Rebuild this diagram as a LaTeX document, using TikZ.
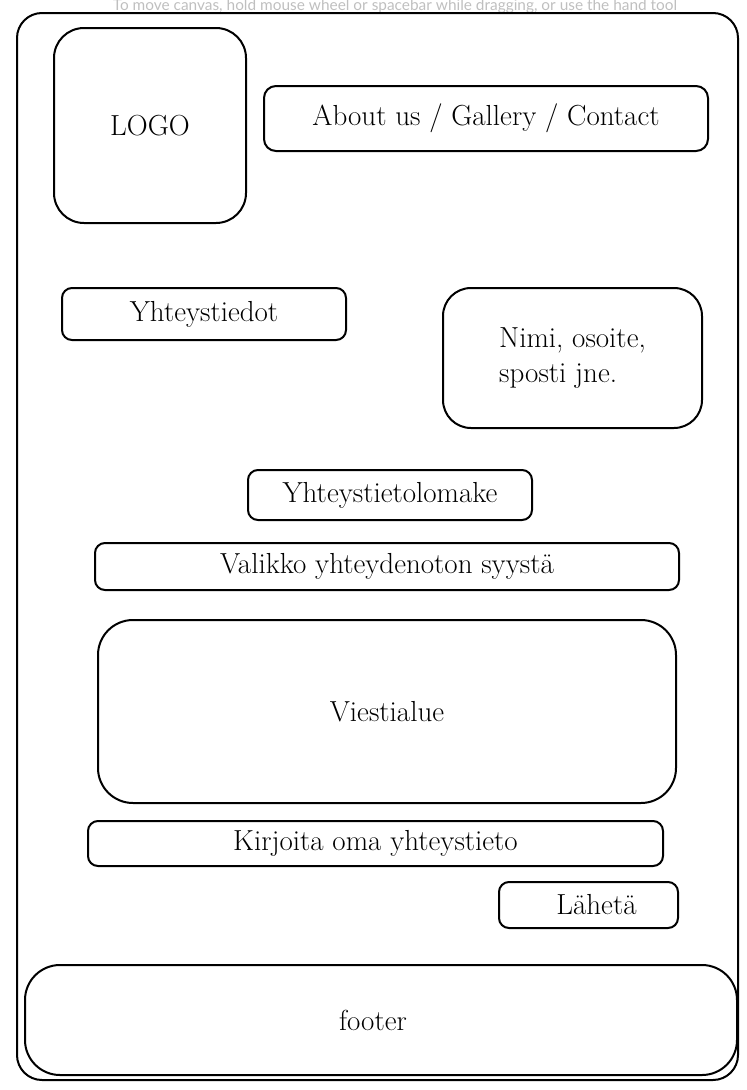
\documentclass[tikz,border=0pt]{standalone}
\usepackage{fontspec}
\newfontfamily\hintfont{Lato}
\begin{document}
\begin{tikzpicture}[x=1pt,y=-1pt,
		box/.style={draw,line width=2pt,rounded corners=10pt,inner sep=0pt,font=\fontsize{29}{35}\selectfont},
		hint/.style={text=black!25,font=\hintfont\fontsize{15.4}{17}\selectfont}]
		\useasboundingbox (0,0) rectangle (747,1090);
		\node[hint] (hint) at (395,6) {To move canvas, hold mouse wheel or spacebar while dragging, or use the hand tool};
		\node[box,rounded corners=25pt,minimum width=721pt,minimum height=1067pt] (frame) at (377.5,546.5) {};
		% header
		\node[box,rounded corners=30pt,minimum width=192pt,minimum height=195pt] (logo) at (150,125.5) {LOGO};
		\node[box,rounded corners=12pt,minimum width=444pt,minimum height=65pt] (nav) at (486,118.5) {About us / Gallery / Contact};
		% contact info
		\node[box,minimum width=284pt,minimum height=52pt] (yhteys) at (204,314) {Yhteystiedot};
		\node[box,rounded corners=28pt,align=left,minimum width=259pt,minimum height=140pt] (nimi) at (572.5,358) {Nimi, osoite,\\sposti jne.};
		% form
		\node[box,minimum width=284pt,minimum height=50pt] (lomake) at (390,495) {Yhteystietolomake};
		\node[box,minimum width=584pt,minimum height=47pt] (valikko) at (387,566.5) {Valikko yhteydenoton syyst\"a};
		\node[box,rounded corners=35pt,minimum width=578pt,minimum height=183pt] (viesti) at (387,711.5) {Viestialue};
		\node[box,minimum width=575pt,minimum height=45pt] (kirjoita) at (375.5,843.5) {Kirjoita oma yhteystieto};
		\node[box,minimum width=179pt,minimum height=46pt] (laheta) at (588.5,905) {\hspace*{16pt}L\"ahet\"a};
		% footer
		\node[box,rounded corners=35pt,minimum width=712pt,minimum height=110pt] (footer) at (381,1020) {footer\hspace*{16pt}};
	\end{tikzpicture}
\end{document}
